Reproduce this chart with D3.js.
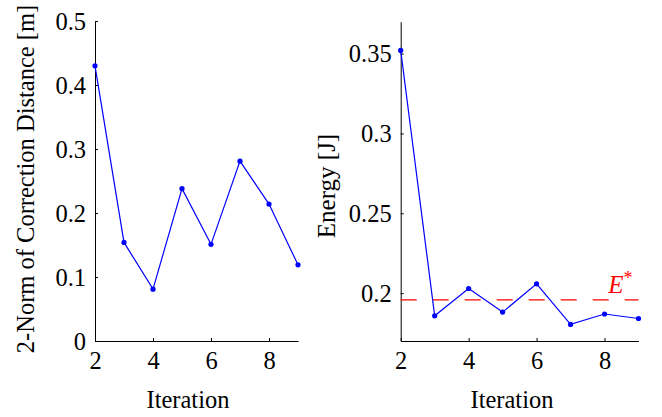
<!DOCTYPE html>
<html>
<head>
<meta charset="utf-8">
<script src="https://cdn.jsdelivr.net/npm/d3@7"></script>
<style>
  body { margin: 0; background: #fff; }
  svg text { font-family: "Liberation Serif", "DejaVu Serif", serif !important; }
  .axis path, .axis line { stroke: #000; stroke-width: 1; }
</style>
</head>
<body>
<div class="canvas"></div>
<script>
// data
const iterations = [2, 3, 4, 5, 6, 7, 8, 9];
const correctionNorm = [0.430, 0.154, 0.081, 0.238, 0.151, 0.281, 0.214, 0.119];
const energy = [0.352, 0.1858, 0.2029, 0.1881, 0.2058, 0.1804, 0.1869, 0.1841];
const energyStar = 0.1958;
const xTicks = [2, 4, 6, 8];
const normTicks = [0, 0.1, 0.2, 0.3, 0.4, 0.5];
const energyTicks = [0.2, 0.25, 0.3, 0.35];

const serif = "Liberation Serif, DejaVu Serif, serif";

const svg = d3
  .select(".canvas")
  .append("svg")
  .attr("width", 662)
  .attr("height", 417)
  .attr("font-family", serif);

function drawPanel(opts) {
  const x = d3.scaleLinear().domain([2, 9]).range(opts.xRange);
  const y = d3.scaleLinear().domain(opts.yDomain).range([341, opts.yTop]);

  const xAxis = d3.axisBottom(x).tickValues(xTicks).tickSizeInner(-3).tickSizeOuter(0).tickPadding(11)
    .tickFormat(d3.format("d"));
  const yAxis = d3.axisLeft(y).tickValues(opts.yTicks).tickSizeInner(-3).tickSizeOuter(0).tickPadding(9)
    .tickFormat(d3.format(""));

  const gx = svg.append("g").attr("class", "axis").attr("transform", "translate(0,341)").call(xAxis);
  const gy = svg.append("g").attr("class", "axis").attr("transform", `translate(${opts.xRange[0]},0)`).call(yAxis);
  [gx, gy].forEach((g) => {
    g.attr("font-family", serif).attr("font-size", 24.5);
    g.selectAll("text").attr("fill", "#000");
  });
  gx.selectAll("text").attr("dy", "0.68em");
  gy.selectAll("text").attr("dy", "0.33em");

  if (opts.ref !== undefined) {
    svg.append("line")
      .attr("x1", x(2)).attr("x2", x(9))
      .attr("y1", y(opts.ref)).attr("y2", y(opts.ref))
      .attr("stroke", "#ff0000").attr("stroke-width", 1.3)
      .attr("stroke-dasharray", "16,16");
    const lbl = svg.append("text")
      .attr("x", x(9) - 6).attr("y", y(opts.ref) - 7)
      .attr("text-anchor", "end").attr("font-size", 25)
      .attr("fill", "#ff0000");
    lbl.append("tspan").attr("font-style", "italic").text("E");
    lbl.append("tspan").attr("dy", -9).attr("font-size", 18).text("*");
  }

  const line = d3.line().x((d, i) => x(iterations[i])).y((d) => y(d));
  svg.append("path")
    .datum(opts.values)
    .attr("d", line)
    .attr("fill", "none")
    .attr("stroke", "#0000ff")
    .attr("stroke-width", 1.2);

  svg.selectAll(null)
    .data(opts.values)
    .enter()
    .append("circle")
    .attr("cx", (d, i) => x(iterations[i]))
    .attr("cy", (d) => y(d))
    .attr("r", 2.6)
    .attr("fill", "#0000ff");

  svg.append("text")
    .attr("x", opts.xLabelX).attr("y", 408)
    .attr("text-anchor", "middle").attr("font-size", 24.5)
    .text("Iteration");

  svg.append("text")
    .attr("transform", `translate(${opts.yLabelX},${opts.yLabelY}) rotate(-90)`)
    .attr("text-anchor", "middle").attr("font-size", opts.yLabelSize)
    .text(opts.yLabel);
}

drawPanel({
  xRange: [95, 298],
  yDomain: [0, 0.5],
  yTop: 21,
  yTicks: normTicks,
  values: correctionNorm,
  xLabelX: 188,
  yLabelX: 34,
  yLabelY: 179,
  yLabelSize: 24.5,
  yLabel: "2-Norm of Correction Distance [m]"
});

drawPanel({
  xRange: [400.7, 638.5],
  yDomain: [0.17, 0.37],
  yTop: 21.7,
  yTicks: energyTicks,
  values: energy,
  ref: energyStar,
  xLabelX: 512,
  yLabelX: 335,
  yLabelY: 186,
  yLabelSize: 25,
  yLabel: "Energy [J]"
});
</script>
</body>
</html>
